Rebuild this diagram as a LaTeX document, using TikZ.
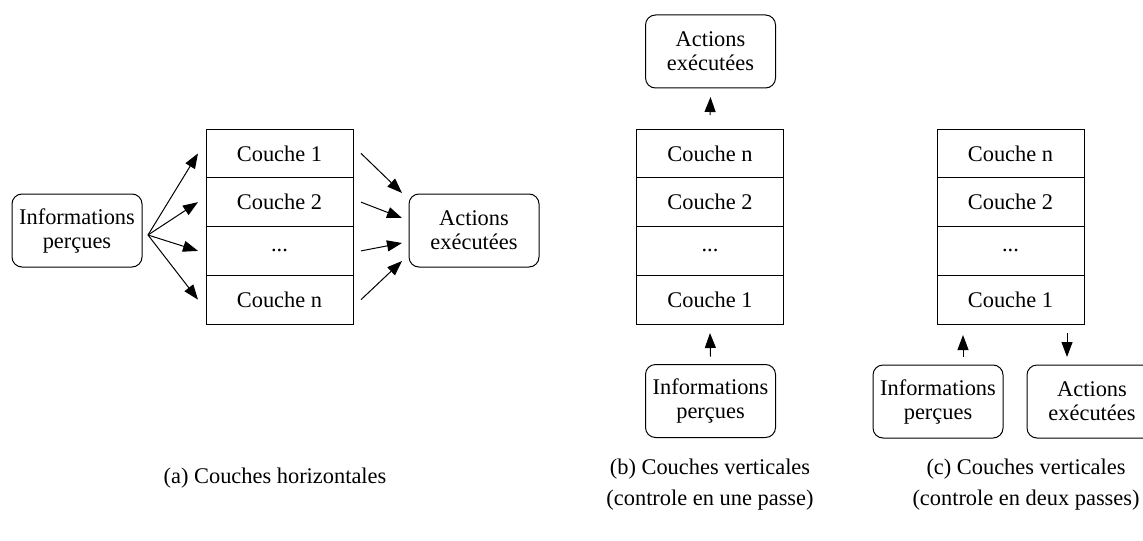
\documentclass[tikz,border=0pt]{standalone}
\usepackage{fontspec}
\setmainfont{Liberation Serif}
\usetikzlibrary{arrows.meta, positioning, calc}

\tikzset{
  couche/.style={draw, rectangle, minimum width=73.5pt, minimum height=24.375pt, inner sep=0pt, outer sep=0pt},
  bloc/.style={draw, rounded corners=5pt, minimum width=65pt, minimum height=36.5pt, align=center, inner sep=1pt, outer sep=0pt},
  fleche/.style={-{Triangle[length=7.5pt,width=5.5pt]}},
  legende/.style={align=center, font=\fontsize{11.2}{15.5}\selectfont},
}

\begin{document}
\begin{tikzpicture}[x=0.5pt, y=-0.5pt, line width=0.5pt, node distance=0pt, font=\fontsize{11.2}{12}\selectfont]
\useasboundingbox (0,0) rectangle (1143,540);
\clip (0,0) rectangle (1143,540);

% (a) couches horizontales
\node[bloc] (infoA) at (77,230.5) {Informations\\perçues};
\node[couche] (a1) at (279.5,153.4) {Couche 1};
\node[couche, below=of a1] (a2) {Couche 2};
\node[couche, below=of a2] (a3) {...};
\node[couche, below=of a3] (a4) {Couche n};
\node[bloc] (actA) at (474,230.5) {Actions\\exécutées};
\coordinate (fanA) at ($(infoA.east)+(3pt,-2.25pt)$);
\foreach \i in {1,...,4}
  \draw[fleche] (fanA) -- ($(a\i.west)+(-4pt,0)$);
\foreach \i/\dy in {1/18.75pt, 2/6.25pt, 3/-6.25pt, 4/-15.25pt}
  \draw[fleche] ($(a\i.east)+(4pt,0)$) -- ($(actA.west)+(-3.5pt,\dy)$);

% (b) couches verticales, une passe
\node[couche] (b4) at (710,153.4) {Couche n};
\node[couche, below=of b4] (b3) {Couche 2};
\node[couche, below=of b3] (b2) {...};
\node[couche, below=of b2] (b1) {Couche 1};
\node[bloc] (actB) at (710.5,51.5) {Actions\\exécutées};
\node[bloc] (infoB) at (710.5,401) {Informations\\perçues};
\draw[fleche] ($(b4.north)+(0,7pt)$) -- ($(actB.south)+(0,-4.5pt)$);
\draw[fleche] ($(infoB.north)+(0,4pt)$) -- ($(b1.south)+(0,-4.5pt)$);

% (c) couches verticales, deux passes
\node[couche] (c4) at (1010.5,153.4) {Couche n};
\node[couche, below=of c4] (c3) {Couche 2};
\node[couche, below=of c3] (c2) {...};
\node[couche, below=of c2] (c1) {Couche 1};
\node[bloc] (infoC) at (938,401.5) {Informations\\perçues};
\node[bloc] (actC) at (1092,401.5) {Actions\\exécutées};
\draw[fleche] ($(infoC.north)+(12.5pt,4pt)$) -- ($(infoC.north |- c1.south)+(12.5pt,-5.5pt)$);
\draw[fleche] ($(actC.north |- c1.south)+(-12.5pt,-4.5pt)$) -- ($(actC.north)+(-12.5pt,4pt)$);

% legendes
\node[legende] (capA) at (275,478) {(a) Couches horizontales};
\node[legende] (capB) at (710,484.5) {(b) Couches verticales\\(controle en une passe)};
\node[legende] (capC) at (1026,484.5) {(c) Couches verticales\\(controle en deux passes)};
\end{tikzpicture}
\end{document}
